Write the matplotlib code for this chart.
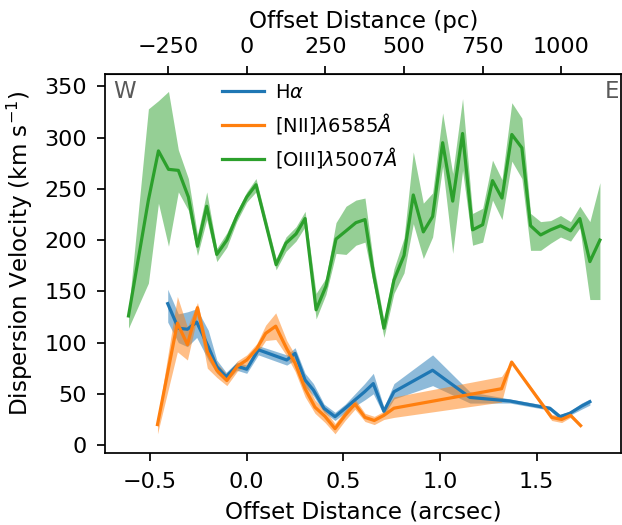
import matplotlib
matplotlib.use('Agg')
import matplotlib.pyplot as plt
import numpy as np

# Halpha
ha_x = [-0.409, -0.354, -0.307, -0.259, -0.199, -0.155, -0.107, -0.052, 0.000, 0.060,
        0.207, 0.250, 0.302, 0.345, 0.400, 0.457, 0.510, 0.560, 0.610, 0.655,
        0.710, 0.762, 0.962, 1.155, 1.362, 1.569, 1.621, 1.672, 1.733, 1.776]
ha_v = [138, 114, 113, 120, 96, 76.5, 66.7, 77, 74, 93,
        83, 89.5, 63.5, 53.7, 35.8, 27.7, 36, 44, 52, 60,
        33, 52, 73, 46.5, 43, 35.8, 27.7, 31, 38, 42.3]
ha_lo = [120, 100, 96, 105, 83, 70, 62, 73, 70, 88,
         78, 83, 57, 48, 32, 24, 32, 38, 44, 50,
         29, 45, 58, 41, 41, 34, 25, 29, 35, 39]
ha_hi = [152, 128, 130, 133, 112, 83, 71, 81, 78, 97,
         88, 95, 70, 60, 40, 32, 40, 50, 60, 70,
         37, 60, 88, 52, 45, 38, 30, 33, 41, 45]

# [NII] 6585
nii_x = [-0.462, -0.359, -0.307, -0.255, -0.204, -0.155, -0.103, -0.049, 0.000, 0.052,
         0.098, 0.150, 0.207, 0.250, 0.302, 0.353, 0.405, 0.457, 0.509, 0.560,
         0.612, 0.660, 0.710, 0.762, 1.319, 1.371, 1.578, 1.630, 1.676, 1.728]
nii_v = [20, 119, 98, 134, 91, 73, 63, 77, 83, 94,
         109, 116, 94, 80, 55, 37, 28, 16, 29, 40,
         27, 24, 29, 36, 55, 81, 27, 25, 29, 19]
nii_lo = [11, 91, 83, 126, 75, 66, 58, 72, 78, 89,
          102, 103, 87, 72, 47, 31, 22, 11, 24, 35,
          23, 20, 25, 27, 42, 80, 24, 22, 27, 18]
nii_hi = [25, 145, 115, 139, 100, 80, 69, 82, 88, 99,
          117, 129, 102, 88, 63, 44, 34, 21, 34, 45,
          31, 28, 33, 47, 67, 82, 30, 28, 31, 20]

# [OIII] 5007
oiii_x = [-0.612, -0.509, -0.457, -0.405, -0.354, -0.302, -0.255, -0.207, -0.155, -0.103,
          -0.052, 0.000, 0.048, 0.152, 0.203, 0.255, 0.302, 0.359, 0.410, 0.462,
          0.514, 0.565, 0.612, 0.658, 0.710, 0.762, 0.814, 0.862, 0.914, 0.962,
          1.014, 1.066, 1.117, 1.169, 1.221, 1.272, 1.321, 1.372, 1.424, 1.469,
          1.521, 1.573, 1.624, 1.676, 1.724, 1.776, 1.828]
oiii_v = [126, 239, 287, 269, 268, 242, 194, 233, 186, 200,
          223, 242, 254, 176, 197, 206, 221, 132, 155, 201,
          209, 217, 220, 165, 114, 161, 185, 244, 208, 223,
          295, 238, 304, 210, 215, 258, 241, 303, 290, 214,
          205, 210, 214, 209, 221, 179, 200]
oiii_lo = [114, 158, 236, 194, 247, 229, 185, 220, 179, 193,
           218, 237, 247, 171, 189, 199, 213, 123, 147, 187,
           186, 195, 198, 155, 105, 148, 168, 216, 182, 203,
           272, 187, 268, 195, 198, 239, 220, 277, 260, 190,
           190, 197, 203, 199, 212, 142, 142]
oiii_hi = [130, 328, 336, 345, 288, 260, 205, 247, 192, 207,
           228, 247, 260, 182, 203, 213, 228, 148, 163, 217,
           233, 239, 241, 175, 122, 172, 202, 286, 236, 246,
           324, 265, 338, 226, 231, 278, 259, 334, 319, 226,
           218, 219, 224, 218, 233, 218, 256]

pc_ticks = [-250, 0, 250, 500, 750, 1000]
PC_PER_ARCSEC = 614.0

def as_to_pc(x):
    return x * PC_PER_ARCSEC

def pc_to_as(p):
    return p / PC_PER_ARCSEC

fig = plt.figure(figsize=(6.22, 5.25), dpi=100)
fig.subplots_adjust(left=0.169, right=0.999, bottom=0.137, top=0.859)
ax = fig.add_subplot(111)

series = [(ha_x, ha_v, ha_lo, ha_hi, 'C0', r'H$\alpha$'),
          (nii_x, nii_v, nii_lo, nii_hi, 'C1', r'[NII]$\lambda 6585\AA$'),
          (oiii_x, oiii_v, oiii_lo, oiii_hi, 'C2', r'[OIII]$\lambda 5007\AA$')]
for x, v, lo, hi, c, lab in series:
    ax.fill_between(x, lo, hi, color=c, alpha=0.5, lw=0)
    ax.plot(x, v, color=c, lw=2.3, label=lab)

ax.set_xlim(-0.733, 1.939)
ax.set_ylim(-7.8, 362)
ax.set_xticks([-0.5, 0.0, 0.5, 1.0, 1.5])
ax.tick_params(labelsize=16, length=6, width=1.25)
ax.tick_params(axis='x', pad=7.5)
ax.tick_params(axis='y', pad=7)
for s in ax.spines.values():
    s.set_linewidth(1.25)
ax.set_xlabel('Offset Distance (arcsec)', fontsize=16.6, labelpad=6)
ax.set_ylabel(r'Dispersion Velocity (km s$^{-1}$)', fontsize=16.6, labelpad=7)
ax.yaxis.label.set_y(0.526)

# top axis in parsec
top = ax.secondary_xaxis('top', functions=(as_to_pc, pc_to_as))
top.set_xticks(pc_ticks)
top.tick_params(labelsize=16, length=6, width=1.25, pad=6)
top.set_xlabel('Offset Distance (pc)', fontsize=16.6, labelpad=7)

ax.text(0.015, 0.985, 'W', transform=ax.transAxes, ha='left', va='top', fontsize=16.5, color='0.35')
ax.text(0.995, 0.985, 'E', transform=ax.transAxes, ha='right', va='top', fontsize=16.5, color='0.35')

ax.legend(loc='upper left', bbox_to_anchor=(0.212, 0.997), borderaxespad=0, frameon=False,
          fontsize=14, handlelength=2.14, handletextpad=0.55, labelspacing=0.47)

fig.savefig('out.png', dpi=100)
